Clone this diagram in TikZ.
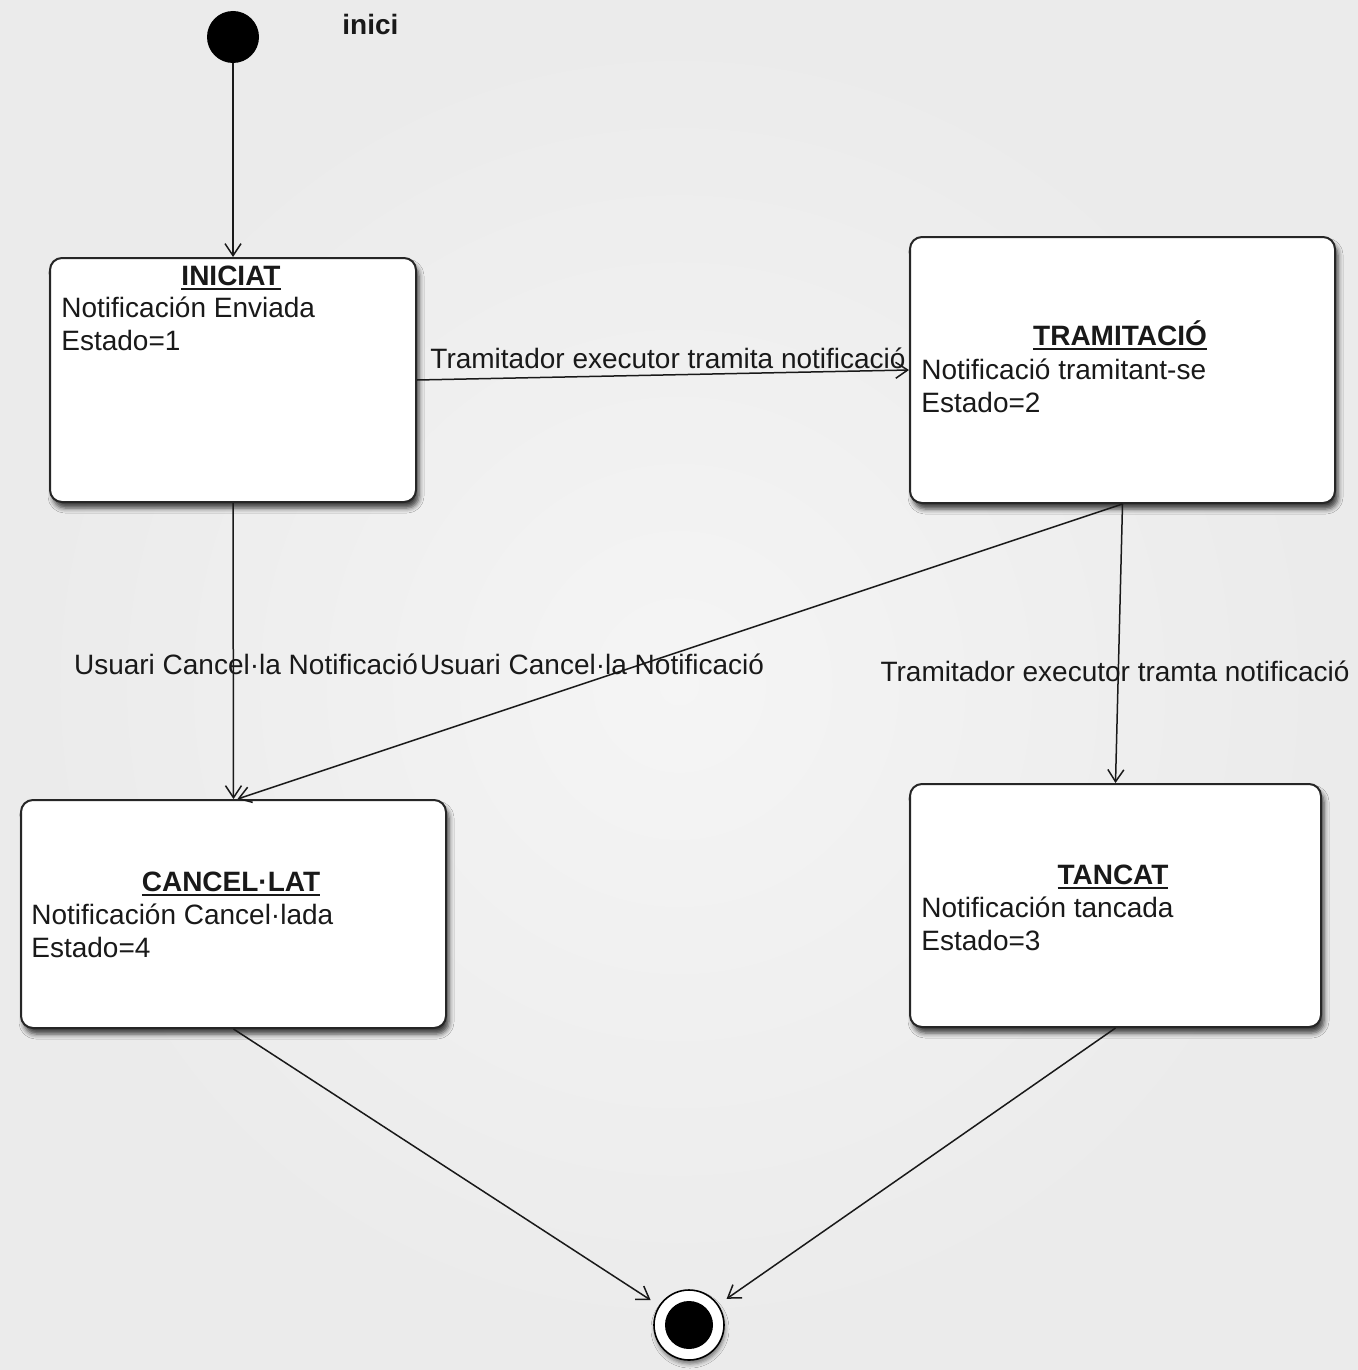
\documentclass[tikz,border=0pt]{standalone}
\usepackage{fontspec}
\setmainfont{Liberation Sans}
\usetikzlibrary{arrows.meta,shadows.blur}
\newcommand{\myul}[1]{\setbox0\hbox{#1}\rlap{\raisebox{-2.3pt}{\rule{\wd0}{0.9pt}}}\box0}
\begin{document}
\begin{tikzpicture}[x=0.5pt,y=-0.5pt,
  txt/.style={font=\fontsize{14}{16.5}\selectfont, inner sep=0pt, text=black!90, align=left},
  ttl/.style={txt, font=\fontsize{14}{16.5}\selectfont\bfseries},
  state/.style={draw=black!85, line width=1pt, rounded corners=6pt, fill=white,
    blur shadow={shadow xshift=1.5pt, shadow yshift=-3pt, shadow blur radius=2.5pt, shadow opacity=75},
    inner sep=0pt},
  conn/.style={draw=black!90, line width=0.75pt, -{Straight Barb[length=6pt,width=8pt]}}
]
\useasboundingbox (0,0) rectangle (1358,1370);
\shade[inner color=black!4, outer color=black!8] (0,0) rectangle (1358,1370);

% initial and final
\node[circle, fill=black, minimum size=26pt, inner sep=0pt] (init) at (233,37) {};
\node[ttl, anchor=base west] (inici) at (342,35) {inici};
\node[circle, draw=black, line width=0.8pt, fill=white, minimum size=35pt, inner sep=0pt,
  blur shadow={shadow xshift=0.5pt, shadow yshift=-2pt, shadow blur radius=2pt, shadow opacity=50}] (final) at (689,1325) {};
\node[circle, fill=black, minimum size=24pt, inner sep=0pt] (finalin) at (689,1325) {};

% states
\node[state, minimum width=183pt, minimum height=122pt] (iniciat) at (233,380) {};
\node[ttl, anchor=base] (iniciatT) at (231,285) {\myul{INICIAT}};
\node[txt, anchor=base west] (iniciatB) at (61,350) {Notificación Enviada\\Estado=1};

\node[state, minimum width=212.5pt, minimum height=133pt] (tram) at (1122.5,370) {};
\node[ttl, anchor=base] (tramT) at (1120,345) {\myul{TRAMITACIÓ}};
\node[txt, anchor=base west] (tramB) at (921,412) {Notificació tramitant-se\\Estado=2};

\node[state, minimum width=212.5pt, minimum height=114pt] (cancel) at (233.5,914) {};
\node[ttl, anchor=base] (cancelT) at (231,891) {\myul{CANCEL·LAT}};
\node[txt, anchor=base west] (cancelB) at (31,957) {Notificación Cancel·lada\\Estado=4};

\node[state, minimum width=205.5pt, minimum height=121.5pt] (tancat) at (1115.5,905.5) {};
\node[ttl, anchor=base] (tancatT) at (1113,884) {\myul{TANCAT}};
\node[txt, anchor=base west] (tancatB) at (921,950) {Notificación tancada\\Estado=3};

% connectors
\draw[conn] (init) -- (iniciat.north);
\draw[conn] (iniciat.east) -- (tram.west);
\draw[conn] (iniciat.south) -- (cancel.north);
\draw[conn] (tram.south) -- ([xshift=2pt]cancel.north);
\draw[conn] (tram.south) -- (tancat.north);
\draw[conn, shorten >=5pt] (cancel.south) -- (final);
\draw[conn, shorten >=5pt] (tancat.south) -- (final);

% edge labels
\node[txt, anchor=base] (l1) at (668,368) {Tramitador executor tramita notificació};
\node[txt, anchor=base] (l2) at (246,674) {Usuari Cancel·la Notificació};
\node[txt, anchor=base] (l3) at (592,674) {Usuari Cancel·la Notificació};
\node[txt, anchor=base] (l4) at (1115,681) {Tramitador executor tramta notificació};
\end{tikzpicture}
\end{document}
